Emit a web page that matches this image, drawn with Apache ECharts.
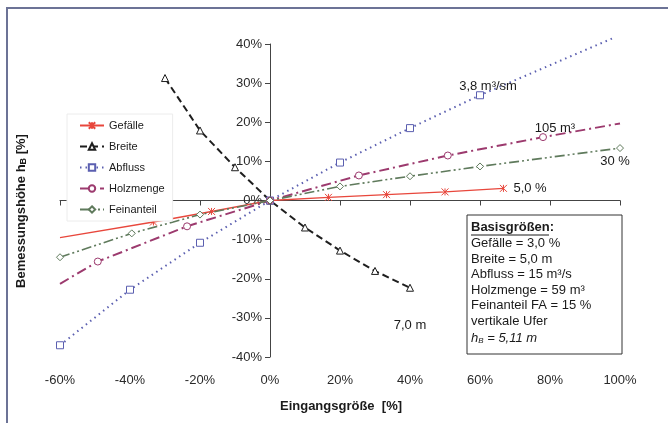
<!DOCTYPE html>
<html>
<head>
<meta charset="utf-8">
<script src="https://cdn.jsdelivr.net/npm/echarts@6/dist/echarts.min.js"></script>
<style>
html,body{margin:0;padding:0;background:#fff;}
#c{width:668px;height:423px;}
</style>
</head>
<body>
<div id="c"></div>
<script>
// ---- data ----
const seriesNames = ['Gefälle', 'Breite', 'Abfluss', 'Holzmenge', 'Feinanteil'];
const gefaelleX = [-60, -33.3, -16.7, 0, 16.7, 33.3, 50, 66.7];
const gefaelleY = [-9.5, -5.5, -2.8, 0, 0.8, 1.5, 2.2, 3.1];
const breiteX = [-30, -20, -10, 0, 10, 20, 30, 40];
const breiteY = [31.3, 17.9, 8.5, 0, -6.9, -12.8, -18, -22.3];
const abflussX = [-60, -40, -20, 0, 20, 40, 60, 98];
const abflussY = [-37, -22.8, -10.8, 0, 9.7, 18.5, 26.9, 41.5];
const holzX = [-60, -49.2, -23.7, 0, 25.4, 50.8, 78, 100];
const holzY = [-21.3, -15.6, -6.6, 0, 6.4, 11.5, 16.2, 19.7];
const feinX = [-60, -39.5, -20, 0, 20, 40, 60, 100];
const feinY = [-14.5, -8.4, -3.6, 0, 3.6, 6.2, 8.7, 13.4];
const xTicks = [-60, -40, -20, 0, 20, 40, 60, 80, 100];
const yTicks = [-40, -30, -20, -10, 0, 10, 20, 30, 40];
const endLabels = [
  {text: '5,0 %', x: 74.3, y: 3.1, series: 0},
  {text: '7,0 m', x: 40, y: -32, series: 1},
  {text: '3,8 m³/sm', x: 62.3, y: 29.2, series: 2},
  {text: '105 m³', x: 81.4, y: 18.5, series: 3},
  {text: '30 %', x: 98.6, y: 10, series: 4}
];
const basisLines = ['Gefälle = 3,0 %', 'Breite = 5,0 m', 'Abfluss = 15 m³/s', 'Holzmenge = 59 m³', 'Feinanteil FA = 15 %', 'vertikale Ufer'];

// markers hidden at these x values (line ends without symbol)
const noMarker = {0: [-60], 2: [98], 3: [-60, 100], 4: []};

const FONT = '"Liberation Sans", Arial, sans-serif';
const colors = ['#e8473c', '#1e1e1e', '#5b5fb0', '#9c3a6e', '#5f7a5c'];
const symbols = [
  'path://M0,0L10,10M10,0L0,10M5,0L5,10',
  'triangle', 'rect', 'circle', 'diamond'
];
const dashes = ['solid', [7, 4], [1.5, 4], [10, 4, 2, 4], [10, 3, 2, 3, 2, 3]];
const widths = [1.4, 2, 2, 2, 1.6];
const xs = [gefaelleX, breiteX, abflussX, holzX, feinX];
const ys = [gefaelleY, breiteY, abflussY, holzY, feinY];

function zip(a, b, idx) {
  return a.map((v, i) => {
    const d = {value: [v, b[i]]};
    if ((noMarker[idx] || []).indexOf(v) >= 0) d.symbol = 'none';
    return d;
  });
}

const series = seriesNames.map((n, i) => ({
  name: n,
  type: 'line',
  xAxisIndex: 0,
  data: zip(xs[i], ys[i], i),
  symbol: symbols[i],
  symbolSize: 7,
  showAllSymbol: true,
  clip: false,
  lineStyle: {color: colors[i], width: widths[i], type: dashes[i]},
  itemStyle: {color: i === 0 ? colors[i] : '#fff', borderColor: colors[i], borderWidth: 1},
  z: 3,
  animation: false,
  markPoint: {
    symbol: 'rect', symbolSize: [1, 1],
    itemStyle: {color: 'rgba(0,0,0,0)'},
    label: {show: true, position: 'inside', formatter: '{b}', color: '#1a1a1a', fontSize: 13, fontFamily: FONT},
    data: endLabels.filter(l => l.series === i).map(l => ({name: l.text, coord: [l.x, l.y]}))
  }
}));

const chart = echarts.init(document.getElementById('c'), null, {renderer: 'canvas'});
const boxLeft = 467, boxTop = 215;
const graphics = [
  {type: 'rect', shape: {x: 7, y: 8, width: 680, height: 440}, style: {fill: 'none', stroke: '#6c7396', lineWidth: 2}, silent: true},
  {type: 'text', x: 341, y: 406, style: {text: 'Eingangsgröße  [%]', font: 'bold 13px ' + FONT, fill: '#1a1a1a', align: 'center', verticalAlign: 'middle'}},
  {type: 'text', x: 21, y: 211, rotation: Math.PI / 2,
    style: {
      text: '{a|Bemessungshöhe h}{s|B}{a| [%]}',
      align: 'center', verticalAlign: 'middle',
      rich: {
        a: {font: 'bold 13px ' + FONT, fill: '#1a1a1a'},
        s: {font: 'bold 9px ' + FONT, fill: '#1a1a1a', padding: [6, 0, 0, 0]}
      }
    }},
  {type: 'rect', shape: {x: boxLeft, y: boxTop, width: 155, height: 139}, style: {fill: '#fff', stroke: '#333', lineWidth: 1}, z: 10},
  {type: 'text', x: boxLeft + 4, y: boxTop + 12, z: 11, style: {text: 'Basisgrößen:', font: 'bold 13px ' + FONT, fill: '#1a1a1a', verticalAlign: 'middle'}},
  {type: 'line', shape: {x1: boxLeft + 4, y1: boxTop + 20, x2: boxLeft + 82, y2: boxTop + 20}, style: {stroke: '#1a1a1a', lineWidth: 1}, z: 11}
];
basisLines.forEach((t, i) => {
  graphics.push({type: 'text', x: boxLeft + 4, y: boxTop + 28.5 + i * 15.6, z: 11,
    style: {text: t, font: '13px ' + FONT, fill: '#1a1a1a', verticalAlign: 'middle'}});
});
graphics.push({type: 'text', x: boxLeft + 4, y: boxTop + 28.5 + 6 * 15.6 + 1, z: 11,
  style: {
    text: '{i|h}{s|B}{i| = 5,11 m}', verticalAlign: 'middle',
    rich: {
      i: {font: 'italic 13px ' + FONT, fill: '#1a1a1a'},
      s: {font: 'italic 8px ' + FONT, fill: '#1a1a1a', padding: [6, 0, 0, 0]}
    }
  }});

const option = {
  animation: false,
  backgroundColor: '#fff',
  grid: {left: 60, right: 48, top: 44, bottom: 66, containLabel: false},
  legend: {
    data: seriesNames,
    orient: 'vertical',
    left: 67, top: 114,
    itemWidth: 24, itemHeight: 8, itemGap: 10,
    padding: [6, 8, 6, 12],
    backgroundColor: '#fff',
    borderColor: '#ececec', borderWidth: 1,
    textStyle: {fontSize: 11, fontFamily: FONT, color: '#1a1a1a'},
    z: 5
  },
  xAxis: [
    {
      type: 'value', min: -60, max: 100, interval: 20,
      axisLine: {onZero: true, lineStyle: {color: '#444', width: 1}},
      axisTick: {show: true, length: 5, lineStyle: {color: '#444'}},
      axisLabel: {show: false},
      splitLine: {show: false}
    },
    {
      type: 'value', min: -60, max: 100, interval: 20, position: 'bottom',
      axisLine: {show: false, onZero: false},
      axisTick: {show: false},
      axisLabel: {show: true, margin: 17, fontSize: 13, fontFamily: FONT, color: '#2a2a2a',
        formatter: v => (xTicks.indexOf(v) >= 0 ? v + '%' : '')},
      splitLine: {show: false}
    }
  ],
  yAxis: {
    type: 'value', min: -40, max: 40, interval: 10,
    position: 'left', offset: -210,
    axisLine: {show: true, onZero: false, lineStyle: {color: '#444', width: 1}},
    axisTick: {show: true, length: 5, lineStyle: {color: '#444'}},
    axisLabel: {margin: 8, fontSize: 13, fontFamily: FONT, color: '#2a2a2a',
      formatter: v => (yTicks.indexOf(v) >= 0 ? v + '%' : '')},
    splitLine: {show: false}
  },
  series: series,
  graphic: graphics
};
chart.setOption(option);
</script>
</body>
</html>
